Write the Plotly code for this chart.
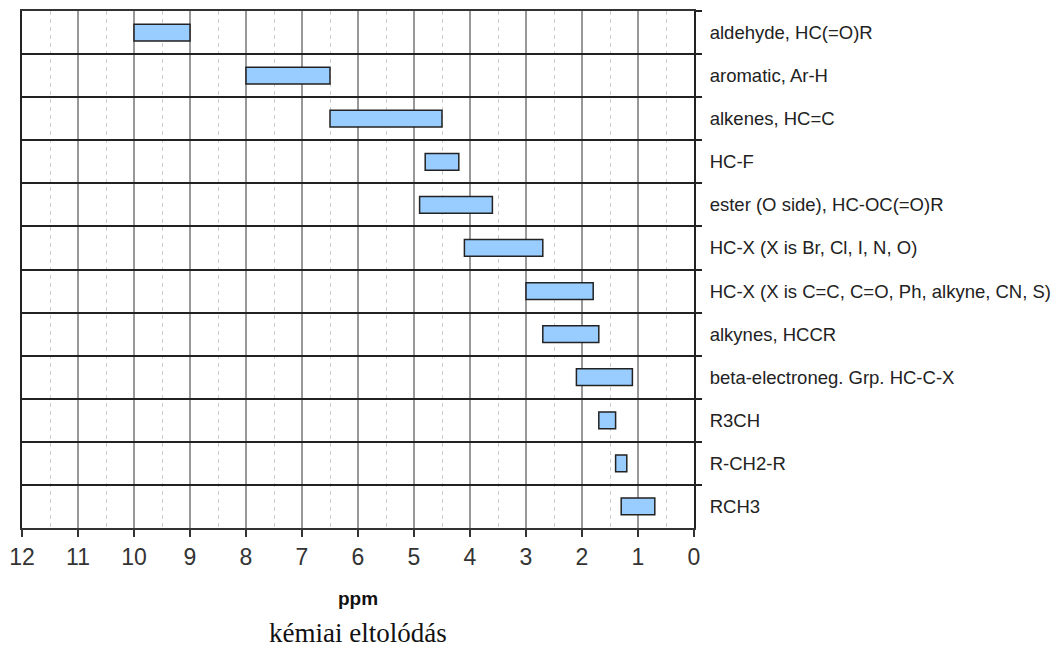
import plotly.graph_objects as go

# Typical 1H NMR chemical shift ranges (ppm)
groups = [
    "aldehyde, HC(=O)R",
    "aromatic, Ar-H",
    "alkenes, HC=C",
    "HC-F",
    "ester (O side), HC-OC(=O)R",
    "HC-X (X is Br, Cl, I, N, O)",
    "HC-X (X is C=C, C=O, Ph, alkyne, CN, S)",
    "alkynes, HCCR",
    "beta-electroneg. Grp. HC-C-X",
    "R3CH",
    "R-CH2-R",
    "RCH3",
]
shift_high = [10.0, 8.0, 6.5, 4.8, 4.9, 4.1, 3.0, 2.7, 2.1, 1.7, 1.4, 1.3]
shift_low = [9.0, 6.5, 4.5, 4.2, 3.6, 2.7, 1.8, 1.7, 1.1, 1.4, 1.2, 0.7]

fig = go.Figure(
    go.Bar(
        y=groups,
        x=[h - l for h, l in zip(shift_high, shift_low)],
        base=shift_low,
        orientation="h",
        width=0.39,
        marker=dict(color="#99CCFF", line=dict(color="#222222", width=1.5)),
        showlegend=False,
    )
)

fig.update_layout(
    width=1060,
    height=651,
    margin=dict(l=22, r=366, t=11, b=123),
    plot_bgcolor="white",
    paper_bgcolor="white",
    font=dict(family="Liberation Sans, Arial, sans-serif", color="#222222"),
)

fig.update_xaxes(
    range=[12, 0],
    tick0=0,
    dtick=1,
    automargin=False,
    ticks="outside",
    ticklen=7,
    tickwidth=1.5,
    tickcolor="#333333",
    tickfont=dict(size=23, color="#333333"),
    showgrid=True,
    gridcolor="#999999",
    gridwidth=1.5,
    minor=dict(tick0=0.5, dtick=1, showgrid=True, gridcolor="#cccccc",
               gridwidth=1.2, griddash="4px,4px"),
    showline=True,
    linecolor="#333333",
    linewidth=2,
    mirror=True,
    zeroline=False,
    title=dict(text="<b>ppm</b>", font=dict(size=19, color="#111111"), standoff=23),
)

fig.update_yaxes(
    categoryorder="array",
    categoryarray=groups,
    autorange="reversed",
    automargin=False,
    side="right",
    tickson="boundaries",
    ticks="outside",
    ticklen=6,
    tickwidth=1.5,
    tickcolor="#222222",
    ticklabelstandoff=10,
    tickfont=dict(size=18.5, color="#222222"),
    showgrid=True,
    gridcolor="#222222",
    gridwidth=1.5,
    showline=True,
    linecolor="#222222",
    linewidth=2,
    mirror=True,
)

fig.add_annotation(
    text="kémiai eltolódás",
    xref="paper",
    yref="paper",
    x=0.5,
    y=0,
    yanchor="top",
    yshift=-88,
    showarrow=False,
    font=dict(family="Liberation Serif, Times New Roman, serif", size=27, color="#111111"),
)

fig.write_html("out.html")
